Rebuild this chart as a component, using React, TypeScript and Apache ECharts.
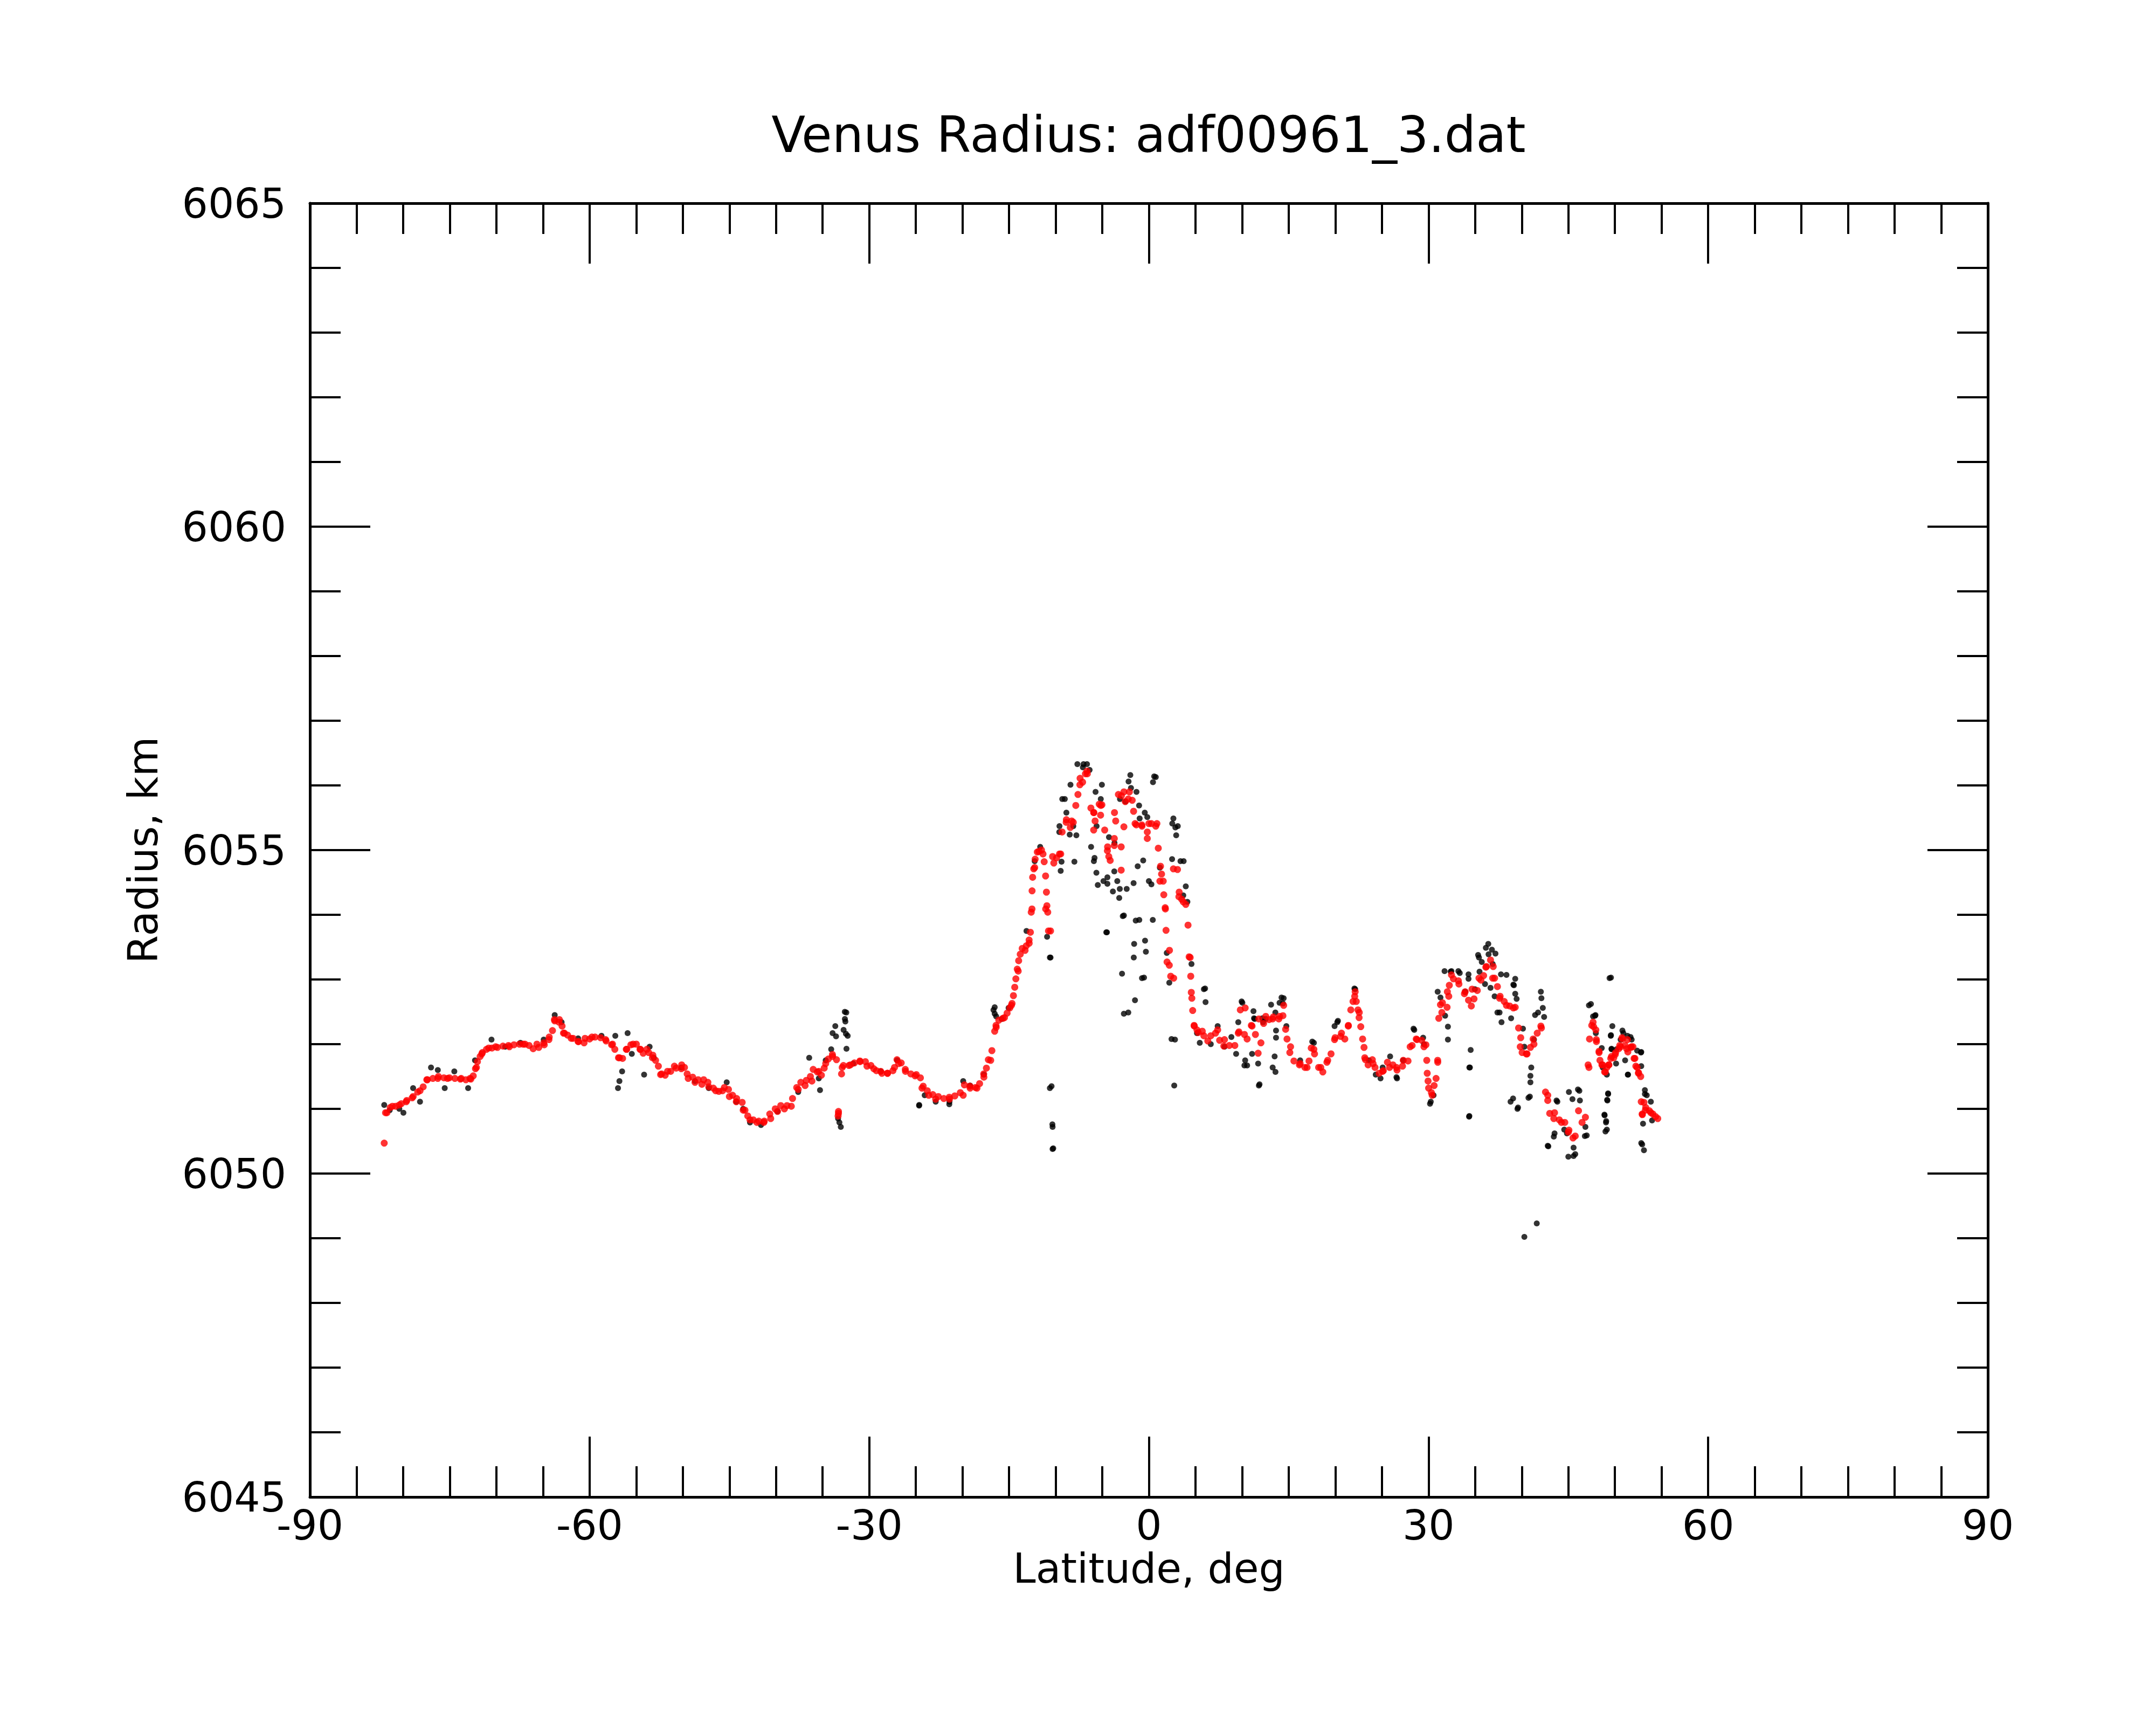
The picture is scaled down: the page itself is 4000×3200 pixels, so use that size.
import React, { useEffect, useRef } from "react";
import * as echarts from "echarts";

const titleText = "Venus Radius: adf00961_3.dat";
const xName = "Latitude, deg";
const yName = "Radius, km";

// Smoothed radius (red), coarse reading over the whole track
const redLat = [-82.03,-81.74,-81.15,-80.41,-79.67,-78.93,-78.19,-77.46,-76.28,-75.24,
-73.77,-72.74,-72.14,-71.56,-70.82,-70.08,-68.60,-67.13,-65.65,-64.92,
-64.33,-63.74,-63.29,-62.70,-61.97,-61.23,-60.49,-59.75,-58.28,-57.54,
-56.80,-56.06,-55.33,-54.59,-53.85,-53.26,-52.38,-51.64,-50.90,-50.16,
-49.42,-48.69,-47.95,-47.21,-46.47,-45.74,-45.00,-44.26,-43.52,-42.79,
-42.05,-41.31,-40.57,-39.84,-39.10,-38.36,-37.62,-36.88,-36.15,-35.41,
-34.67,-33.93,-33.34,-33.30,-32.90,-32.02,-30.98,-30.24,-29.51,-28.77,
-28.03,-27.29,-26.85,-26.11,-25.08,-24.34,-23.61,-22.87,-21.39,-19.92,
-19.18,-18.44,-17.70,-16.97,-16.38,-15.49,-14.75,-14.02,-13.28,-12.84,
-12.54,-12.25,-11.80,-11.36,-11.07,-10.77,-10.33,-9.59,-8.85,-8.11,
-7.38,-6.64,-5.90,-5.16,-4.43,-3.69,-2.95,-2.21,-1.48,-0.74,
0,0.74,1.18,1.77,2.21,2.66,3.25,3.69,4.43,4.87,
5.16,5.90,6.64,7.38,8.11,9.59,10.33,11.07,11.80,12.54,
13.28,14.02,14.46,15.20,16.23,16.97,17.70,18.44,19.18,19.92,
20.66,21.39,22.13,22.57,23.16,24.05,25.08,25.82,26.56,27.29,
28.03,28.77,29.51,29.95,30.39,30.98,31.43,32.02,32.46,33.20,
33.93,34.67,35.41,36.15,36.88,37.62,38.36,39.10,39.84,40.57,
41.31,42.05,42.79,43.52,44.26,45.00,45.74,46.47,47.21,47.65,
47.95,48.39,49.13,49.87,50.61,51.34,51.93,52.38,52.82,53.26,
53.85,54.59];

const redRadius = [6050.47,6050.94,6051.04,6051.06,6051.11,6051.19,6051.28,6051.45,6051.47,6051.47,
6051.47,6051.46,6051.64,6051.85,6051.94,6051.96,6051.96,6052.00,6052.00,6052.02,
6052.11,6052.36,6052.34,6052.17,6052.09,6052.04,6052.09,6052.11,6052.07,6052.00,
6051.79,6051.92,6052.00,6051.92,6051.92,6051.79,6051.53,6051.58,6051.66,6051.62,
6051.47,6051.41,6051.38,6051.34,6051.28,6051.28,6051.19,6051.11,6050.98,6050.83,
6050.79,6050.79,6050.85,6050.96,6051.00,6051.04,6051.30,6051.36,6051.43,6051.58,
6051.70,6051.81,6050.89,6050.96,6051.64,6051.68,6051.73,6051.66,6051.62,6051.58,
6051.55,6051.64,6051.70,6051.58,6051.51,6051.32,6051.21,6051.15,6051.15,6051.21,
6051.32,6051.32,6051.49,6051.75,6052.26,6052.41,6052.60,6053.13,6053.45,6053.56,
6054.09,6054.73,6054.98,6054.94,6054.09,6053.75,6054.90,6054.94,6055.47,6055.43,
6056.11,6056.22,6055.58,6055.69,6055.05,6055.58,6055.84,6055.79,6055.41,6055.37,
6055.41,6055.37,6054.52,6054.09,6053.45,6053.02,6054.35,6054.20,6053.34,6052.28,
6052.22,6052.13,6052.13,6052.22,6052.07,6052.17,6052.56,6052.28,6052.39,6052.43,
6052.39,6052.43,6052.60,6051.96,6051.70,6051.64,6051.92,6051.64,6051.75,6052.07,
6052.17,6052.28,6052.81,6052.49,6051.79,6051.70,6051.58,6051.64,6051.64,6051.75,
6051.96,6052.07,6051.96,6051.43,6051.21,6051.75,6052.49,6052.81,6053.07,6052.98,
6052.81,6052.85,6053.02,6053.19,6053.02,6052.71,6052.60,6052.56,6051.96,6051.85,
6052.00,6052.28,6051.21,6050.94,6050.79,6050.64,6050.58,6050.79,6051.64,6052.34,
6052.22,6051.75,6051.64,6051.79,6051.96,6052.07,6051.96,6051.64,6051.11,6050.98,
6050.94,6050.85];

// Smoothed radius (red), finer reading, southern part
const redSouthLat = [-81.89,-81.39,-80.80,-80.20,-79.61,-79.03,-78.44,-77.85,-77.40,-76.81,
-76.22,-75.63,-75.04,-74.45,-73.86,-73.27,-72.83,-72.48,-72.24,-72.03,
-71.74,-71.50,-71.06,-70.47,-69.88,-69.29,-68.70,-68.11,-67.52,-66.93,
-66.49,-66.05,-65.45,-64.86,-64.36,-63.98,-63.77,-63.24,-62.95,-62.80,
-62.36,-61.77,-61.18,-60.59,-60.00,-59.41,-58.82,-58.23,-57.64,-57.29,
-56.90,-56.46,-56.01,-55.57,-54.98,-54.54,-54.25,-53.66,-53.21,-52.92,
-52.62,-52.27,-51.89,-51.30,-50.71,-50.12,-49.82,-49.53,-48.94,-48.35,
-47.76,-47.31,-46.72,-46.13,-45.54,-45.10,-44.66,-44.22,-43.63,-43.33,
-43.03,-42.44,-41.85,-41.26,-40.67,-40.08,-39.49];
const redSouthRadius = [6050.94,6051.02,6051.04,6051.08,6051.13,6051.17,6051.26,6051.34,6051.45,6051.47,
6051.50,6051.48,6051.48,6051.47,6051.46,6051.45,6051.47,6051.51,6051.62,6051.73,
6051.81,6051.87,6051.92,6051.94,6051.95,6051.97,6051.98,6051.99,6052.00,6052.00,
6051.98,6051.93,6051.95,6051.99,6052.07,6052.21,6052.38,6052.38,6052.28,6052.17,
6052.14,6052.09,6052.04,6052.02,6052.08,6052.11,6052.10,6052.05,6051.99,6051.92,
6051.79,6051.78,6051.92,6051.99,6052.00,6051.92,6051.86,6051.87,6051.83,6051.75,
6051.66,6051.54,6051.52,6051.58,6051.63,6051.68,6051.64,6051.54,6051.49,6051.45,
6051.45,6051.41,6051.32,6051.27,6051.33,6051.30,6051.21,6051.16,6051.10,6050.98,
6050.89,6050.83,6050.81,6050.81,6050.92,6051.00,6051.05];

// Smoothed radius (red), finer reading, equatorial highland
const redMidLat = [-38.82,-38.23,-37.78,-37.34,-36.75,-36.31,-36.01,-35.57,-35.13,-34.83,
-34.39,-33.95,-33.51,-33.30,-32.97,-32.77,-32.18,-31.59,-31.00,-30.41,
-29.82,-29.23,-28.64,-28.05,-27.46,-27.02,-26.57,-26.13,-25.54,-24.95,
-24.51,-24.21,-23.77,-23.18,-22.59,-22.00,-21.41,-20.82,-20.23,-19.79,
-19.20,-18.61,-18.16,-17.72,-17.43,-17.22,-16.84,-16.54,-16.40,-16.10,
-15.66,-15.21,-14.92,-14.68,-14.53,-14.39,-14.27,-14.12,-13.97,-13.80,
-13.59,-13.15,-12.85,-12.71,-12.62,-12.53,-12.47,-12.35,-12.20,-11.97,
-11.52,-11.23,-11.08,-10.99,-10.94,-10.85,-10.55,-10.20,-9.90,-9.46,
-9.31,-8.87,-8.43,-8.28,-7.84,-7.61,-7.40,-7.11,-6.81,-6.60,
-6.22,-5.92,-5.77,-5.92,-5.33,-5.18,-5.04,-4.74,-4.45,-4.30,
-4.15,-3.71,-3.71,-3.56,-3.27,-2.97,-2.97,-2.68,-2.68,-2.53,
-2.09,-1.79,-1.64,-1.35,-0.76,-0.17,-0.17,0.27,0.86,1.01,
1.25,1.36,1.54,1.60,1.75,1.84,1.95,2.19,2.34,2.63,
3.07,3.22,3.52,3.96,4.20,4.32,4.49,4.55,4.61,4.70,
4.85,5.29,5.73,6.32];
const redMidRadius = [6051.05,6051.16,6051.33,6051.41,6051.44,6051.50,6051.61,6051.57,6051.52,6051.63,
6051.77,6051.84,6051.76,6050.93,6051.54,6051.67,6051.67,6051.71,6051.74,6051.73,
6051.67,6051.59,6051.55,6051.55,6051.59,6051.76,6051.71,6051.61,6051.54,6051.53,
6051.48,6051.35,6051.28,6051.22,6051.19,6051.16,6051.18,6051.20,6051.25,6051.37,
6051.35,6051.33,6051.39,6051.54,6051.63,6051.76,6051.90,6052.20,6052.29,6052.37,
6052.40,6052.48,6052.56,6052.63,6052.75,6052.88,6053.01,6053.16,6053.29,6053.39,
6053.48,6053.52,6053.61,6053.73,6054.04,6054.37,6054.58,6054.71,6054.86,6054.97,
6055.00,6054.82,6054.60,6054.35,6054.14,6054.04,6053.75,6054.80,6054.88,6054.94,
6055.28,6055.43,6055.35,6055.45,6055.69,6055.86,6056.01,6056.05,6056.18,6056.18,
6055.65,6055.58,6055.45,6055.31,6055.71,6055.54,6055.70,6055.31,6054.99,6054.90,
6054.84,6055.18,6055.07,6055.45,6055.86,6055.05,6054.69,6055.90,6055.36,6055.75,
6055.90,6055.77,6055.60,6055.39,6055.39,6055.28,6055.18,6055.41,6055.41,6055.03,
6054.75,6054.63,6054.52,6054.31,6054.11,6053.76,6053.27,6053.22,6053.05,6054.71,
6054.70,6054.28,6054.24,6054.16,6053.84,6053.35,6053.05,6052.80,6052.71,6052.52,
6052.29,6052.18,6052.20,6052.05];

// Smoothed radius (red), finer reading, northern part
const redNorthLat = [7.15,7.59,8.04,8.63,9.22,9.66,9.81,10.25,10.54,10.99,
11.43,11.72,12.02,12.31,12.90,13.35,13.94,14.38,14.67,14.82,
15.12,15.56,16.15,16.74,17.18,17.42,17.77,18.21,18.66,19.10,
19.54,19.98,20.57,21.02,21.40,21.66,21.90,22.08,22.25,22.43,
22.55,22.73,22.93,23.08,23.23,23.52,23.97,24.26,24.70,25.15,
25.59,26.18,26.62,27.21,27.80,28.24,28.68,29.27,29.72,29.81,
29.86,30.01,30.31,30.60,30.81,30.99,31.10,31.28,31.49,31.99,
32.17,32.23,32.67,33.26,33.85,34.29,34.59,34.88,35.23,35.62,
35.91,36.21,36.65,36.94,37.09,37.39,37.68,38.12,38.71,39.30,
39.66,39.89,40.04,40.49,40.93,41.22,41.66,42.11,42.55,42.79,
43.00,43.44,44.03,44.62,45.06,45.50,46.09,46.83,47.12,47.27,
47.51,47.71,48.01,48.30,48.60,48.89,49.33,49.63,50.07,50.51,
50.81,51.25,51.70,52.14,52.52,52.94,
48.00,48.29,48.68,48.97,49.35,49.55,50.03,50.41,50.76,51.09,
51.38,51.76,52.05,52.24,52.53,52.76,53.11,53.30,52.92,53.69,
54.07,54.36];
const redNorthRadius = [6052.17,6052.06,6051.97,6051.98,6051.98,6052.19,6052.53,6052.15,6052.08,6052.29,
6052.15,6051.86,6052.02,6052.32,6052.38,6052.42,6052.39,6052.44,6052.23,6052.08,
6051.87,6051.74,6051.68,6051.64,6051.74,6051.94,6051.85,6051.64,6051.57,6051.72,
6051.85,6052.10,6052.12,6052.08,6052.29,6052.53,6052.66,6052.74,6052.66,6052.53,
6052.41,6052.27,6052.08,6051.95,6051.76,6051.68,6051.76,6051.64,6051.55,6051.59,
6051.72,6051.68,6051.60,6051.66,6051.74,6051.98,6052.08,6052.06,6051.99,6051.75,
6051.55,6051.32,6051.25,6051.36,6051.47,6051.72,6052.40,6052.61,6052.64,6052.57,
6052.74,6052.91,6053.01,6052.93,6052.78,6052.68,6052.59,6052.70,6052.83,6052.99,
6053.06,6053.20,6053.30,6053.20,6053.02,6052.89,6052.74,6052.66,6052.59,6052.57,
6052.25,6052.10,6051.87,6051.85,6051.95,6052.08,6052.17,6052.25,6051.26,6051.13,
6050.93,6050.85,6050.83,6050.79,6050.67,6050.55,6050.97,6050.87,6051.68,6052.08,
6052.29,6052.27,6052.04,6051.87,6051.68,6051.57,6051.68,6051.81,6051.87,6051.98,
6052.08,6051.93,6051.95,6051.78,6051.55,6050.91,
6052.07,6051.89,6051.68,6051.57,6051.68,6051.78,6051.84,6051.93,6052.10,6051.98,
6051.88,6051.96,6051.78,6051.66,6051.56,6051.50,6051.10,6051.02,6050.92,6050.97,
6050.92,6050.88];

// Raw radius (black)
const blackLat = [-82.03,-81.44,-80.41,-79.97,-78.93,-78.19,-77.01,-76.28,-75.54,-74.51,
-73.03,-72.29,-70.52,-69.05,-67.42,-64.92,-63.74,-63.00,-61.23,-58.72,
-57.24,-56.95,-56.80,-56.51,-55.92,-55.47,-54.15,-53.56,-53.11,-50.16,
-48.69,-47.21,-45.29,-44.26,-43.52,-42.79,-41.61,-39.84,-37.62,-36.44,
-35.41,-34.67,-34.08,-33.93,-33.64,-33.34,-33.20,-33.05,-32.75,-32.61,
-32.46,-32.31,-31.72,-28.77,-27.00,-24.64,-24.05,-22.87,-21.39,-19.92,
-19.18,-17.70,-16.67,-16.38,-15.79,-15.05,-13.13,-12.25,-11.66,-10.92,
-10.62,-10.62,-10.33,-10.33,-9.59,-9.29,-8.85,-8.41,-8.11,-7.67,
-7.08,-6.64,-6.20,-5.90,-5.61,-5.16,-4.87,-4.57,-4.28,-3.69,
-3.39,-3.10,-2.80,-2.51,-2.21,-1.92,-1.62,-1.33,-1.03,-0.74,
-0.44,0,0.44,0.74,1.18,1.92,2.51,2.80,3.10,3.39,
3.69,4.13,4.57,5.16,5.46,5.90,6.64,7.38,8.11,8.85,
9.59,10.03,10.33,11.07,11.36,11.80,12.25,12.54,13.28,13.57,
14.02,14.46,14.75,16.23,17.70,19.92,20.21,22.13,23.61,24.34,
25.08,26.56,27.29,28.47,29.51,30.24,30.54,30.98,31.72,32.46,
33.20,33.93,34.38,34.38,34.97,35.41,36.15,36.44,36.88,37.62,
38.36,38.80,39.10,39.54,40.28,40.28,40.87,41.02,41.31,41.61,
41.75,42.05,42.79,43.52,43.82,44.56,45.00,45.44,45.74,46.18,
46.77,47.21,47.65,47.95,48.69,49.13,49.13,49.42,49.72,50.16,
50.61,50.90,51.34,51.79,52.38,52.82,53.11,53.41,53.85];

const blackRadius = [6051.06,6050.98,6051.00,6050.94,6051.32,6051.11,6051.64,6051.60,6051.32,6051.58,
6051.32,6051.75,6052.07,6051.96,6052.02,6052.07,6052.45,6052.34,6052.09,6052.13,
6052.13,6051.32,6051.43,6051.58,6052.17,6051.85,6051.53,6051.96,6051.79,6051.64,
6051.43,6051.32,6051.41,6051.11,6051.00,6050.79,6050.75,6050.96,6051.26,6051.79,
6051.47,6051.75,6051.92,6052.17,6052.28,6050.85,6050.79,6050.72,6052.22,6052.39,
6052.49,6052.13,6051.70,6051.58,6051.75,6051.06,6051.21,6051.11,6051.11,6051.43,
6051.36,6051.53,6052.53,6052.43,6052.39,6052.56,6053.75,6054.83,6055.05,6053.66,
6053.34,6051.32,6050.72,6050.38,6055.37,6055.79,6055.58,6056.01,6055.37,6056.33,
6056.28,6056.33,6055.05,6054.83,6055.37,6055.79,6054.52,6053.73,6055.20,6055.11,
6054.52,6055.79,6053.98,6055.75,6052.49,6055.96,6053.34,6055.90,6053.92,6053.02,
6055.58,6054.52,6056.05,6056.13,6054.73,6053.41,6055.41,6052.07,6055.37,6054.83,
6054.30,6054.20,6053.24,6052.17,6052.02,6052.85,6052.00,6052.28,6051.96,6052.11,
6052.34,6052.64,6051.75,6051.85,6052.39,6051.36,6052.34,6052.39,6051.64,6052.49,
6052.64,6052.71,6052.28,6051.75,6052.02,6052.28,6052.34,6052.85,6051.75,6051.53,
6051.64,6051.49,6051.75,6052.22,6052.00,6051.11,6051.21,6052.81,6053.13,6053.13,
6053.13,6052.81,6051.64,6050.89,6052.85,6053.34,6053.49,6053.39,6053.24,6052.49,
6053.07,6051.11,6052.92,6051.00,6051.96,6049.02,6051.19,6051.64,6052.07,6049.23,
6052.49,6052.81,6050.43,6050.62,6051.11,6050.68,6050.26,6051.15,6050.30,6051.28,
6050.58,6052.60,6052.43,6052.17,6051.64,6051.53,6050.68,6053.02,6052.28,6051.92,
6052.07,6052.17,6052.13,6052.07,6051.90,6050.47,6050.36,6051.21,6051.11];

// Raw radius (black), extra readings around the highland and the north
const blackExtraLat = [-32.62,-32.56,-32.50,-32.44,-33.56,-35.28,-24.65,-21.41,-16.54,-16.54,
-10.44,-10.35,-10.26,-10.55,-9.02,-7.99,-5.48,-4.50,-3.18,-2.68,
-2.88,-2.68,-1.58,-1.49,-1.41,-0.52,-0.41,-0.32,0.42,0.27,
0.57,2.63,2.84,2.93,2.49,3.73,3.96,2.43,2.72,6.03,
6.08,2.19,-3.71,-3.12,-2.38,-1.64,-1.20,-0.61,-5.83,-5.63,
-4.45,-4.45,-3.86,-9.61,-8.49,-7.78,-9.37,-9.46,-7.01,-6.36,
-5.72,-5.04,-1.99,-2.18,-1.05,-0.17,-0.99,
9.95,11.22,11.28,12.17,13.11,14.23,14.38,13.64,13.64,13.49,
13.58,11.87,10.25,10.54,11.72,9.36,20.28,17.53,22.05,24.85,
26.62,25.88,28.39,29.42,30.16,31.28,31.78,32.08,32.08,32.37,
33.35,34.29,34.29,34.52,34.44,34.35,35.32,36.41,36.80,37.18,
35.71,35.47,36.06,36.65,37.09,37.77,39.16,39.30,39.30,39.45,
37.39,37.83,38.86,42.11,42.26,42.40,41.43,40.13,40.93,40.93,
40.72,39.07,39.60,43.73,45.06,46.03,46.24,46.83,46.97,42.85,
43.44,44.85,45.56,45.56,47.42,47.86,49.57,49.27,49.19,48.89,
49.04,48.98,49.57,49.63,51.40,52.79,
47.91,49.55,49.64,48.58,50.80,51.67,52.82,52.82,51.38,50.12,
51.09,49.26,49.16,48.87,49.06,53.21,53.21,53.01,52.92,53.98];
const blackExtraRadius = [6052.50,6052.35,6052.16,6051.93,6052.12,6051.29,6051.05,6051.07,6052.57,6052.47,
6051.35,6050.76,6050.39,6053.34,6055.79,6054.82,6054.46,6053.73,6054.26,6053.99,
6053.09,6052.47,6053.55,6052.68,6053.91,6053.03,6053.60,6053.43,6053.92,6054.47,
6056.14,6055.49,6055.35,6055.23,6054.86,6054.83,6054.44,6052.08,6051.36,6052.86,
6052.65,6052.95,6054.67,6054.40,6054.40,6054.49,6054.75,6054.84,6054.88,6054.65,
6054.58,6054.48,6054.36,6055.28,6055.24,6055.23,6054.82,6054.68,6056.33,6056.24,
6055.90,6056.01,6056.16,6056.06,6055.69,6055.51,6055.49,
6052.66,6052.51,6052.40,6052.40,6052.61,6052.72,6052.63,6052.21,6052.10,6051.81,
6051.57,6051.38,6051.67,6051.67,6051.70,6051.85,6052.36,6052.04,6052.86,6051.47,
6051.47,6051.81,6052.24,6052.10,6051.08,6052.72,6052.44,6052.27,6052.07,6053.12,
6053.10,6053.08,6053.01,6051.91,6051.64,6050.88,6053.38,6053.55,6053.46,6053.40,
6053.27,6053.12,6052.93,6052.87,6052.74,6053.08,6052.91,6053.01,6052.78,6052.70,
6052.49,6052.34,6052.40,6052.71,6052.56,6052.42,6052.45,6052.24,6051.51,6051.41,
6051.17,6051.16,6051.02,6051.13,6051.26,6051.30,6051.13,6050.72,6050.59,6050.42,
6050.57,6050.62,6050.40,6050.27,6052.62,6052.44,6053.03,6051.23,6051.13,6050.90,
6050.79,6050.65,6052.14,6051.93,6051.53,6051.87,
6052.45,6052.13,6051.92,6051.94,6052.21,6052.11,6051.88,6051.66,6051.53,6051.70,
6051.75,6051.24,6051.14,6050.91,6050.81,6051.29,6051.23,6050.77,6050.45,6050.82];

const FONT = "DejaVu Sans";

function zip(a: number[], b: number[]) {
  const n = Math.min(a.length, b.length);
  const out: number[][] = [];
  for (let i = 0; i < n; i++) out.push([a[i], b[i]]);
  return out;
}

export default function App() {
  const ref = useRef<HTMLDivElement>(null);
  useEffect(() => {
    document.body.style.margin = "0";
    if (!ref.current) return;
    const chart = echarts.init(ref.current, undefined, { renderer: "svg" });
    const axisLine = { show: true, onZero: false, lineStyle: { color: "#000", width: 5 } };
    const tick = { show: true, inside: true, length: 112, lineStyle: { color: "#000", width: 4 } };
    const label = { color: "#000", fontSize: 76, fontFamily: FONT, formatter: (v: number) => String(v) };
    const xCommon = {
      type: "value", min: -90, max: 90, interval: 30,
      axisLine, axisTick: tick,
      minorTick: { show: true, splitNumber: 6, length: 57, lineStyle: { color: "#000", width: 4 } },
      splitLine: { show: false }, minorSplitLine: { show: false },
    };
    const yCommon = {
      type: "value", min: 6045, max: 6065, interval: 5,
      axisLine, axisTick: tick,
      minorTick: { show: true, splitNumber: 5, length: 57, lineStyle: { color: "#000", width: 4 } },
      splitLine: { show: false }, minorSplitLine: { show: false },
    };
    const blackData = zip(blackLat, blackRadius).concat(zip(blackExtraLat, blackExtraRadius));
    const redData = zip(redLat, redRadius)
      .concat(zip(redSouthLat, redSouthRadius))
      .concat(zip(redMidLat, redMidRadius))
      .concat(zip(redNorthLat, redNorthRadius));
    chart.setOption({
      animation: false,
      backgroundColor: "#fff",
      grid: { left: 575, right: 312, top: 377, bottom: 423, containLabel: false },
      graphic: [
        {
          type: "text", x: 2131, y: 250,
          style: { text: titleText, fontSize: 92, fontFamily: FONT, fill: "#000", textAlign: "center", textVerticalAlign: "middle" },
        },
      ],
      xAxis: [
        {
          ...xCommon, position: "bottom",
          axisLabel: { ...label, margin: 14 },
          name: xName, nameLocation: "middle", nameGap: 92,
          nameTextStyle: { color: "#000", fontSize: 76, fontFamily: FONT },
        },
        { ...xCommon, position: "top", axisLabel: { show: false } },
      ],
      yAxis: [
        {
          ...yCommon, position: "left",
          axisLabel: { ...label, margin: 44 },
          name: yName, nameLocation: "middle", nameGap: 272,
          nameTextStyle: { color: "#000", fontSize: 76, fontFamily: FONT },
        },
        { ...yCommon, position: "right", axisLabel: { show: false } },
      ],
      series: [
        {
          type: "scatter", xAxisIndex: 0, yAxisIndex: 0,
          data: blackData, symbol: "circle", symbolSize: 11,
          itemStyle: { color: "#000" }, z: 2, silent: true,
        },
        {
          type: "scatter", xAxisIndex: 0, yAxisIndex: 0,
          data: redData, symbol: "circle", symbolSize: 13,
          itemStyle: { color: "#ff0000" }, z: 3, silent: true,
        },
      ],
    });
    return () => chart.dispose();
  }, []);
  return <div ref={ref} style={{ width: 4000, height: 3200, position: "absolute", left: 0, top: 0 }} />;
}
